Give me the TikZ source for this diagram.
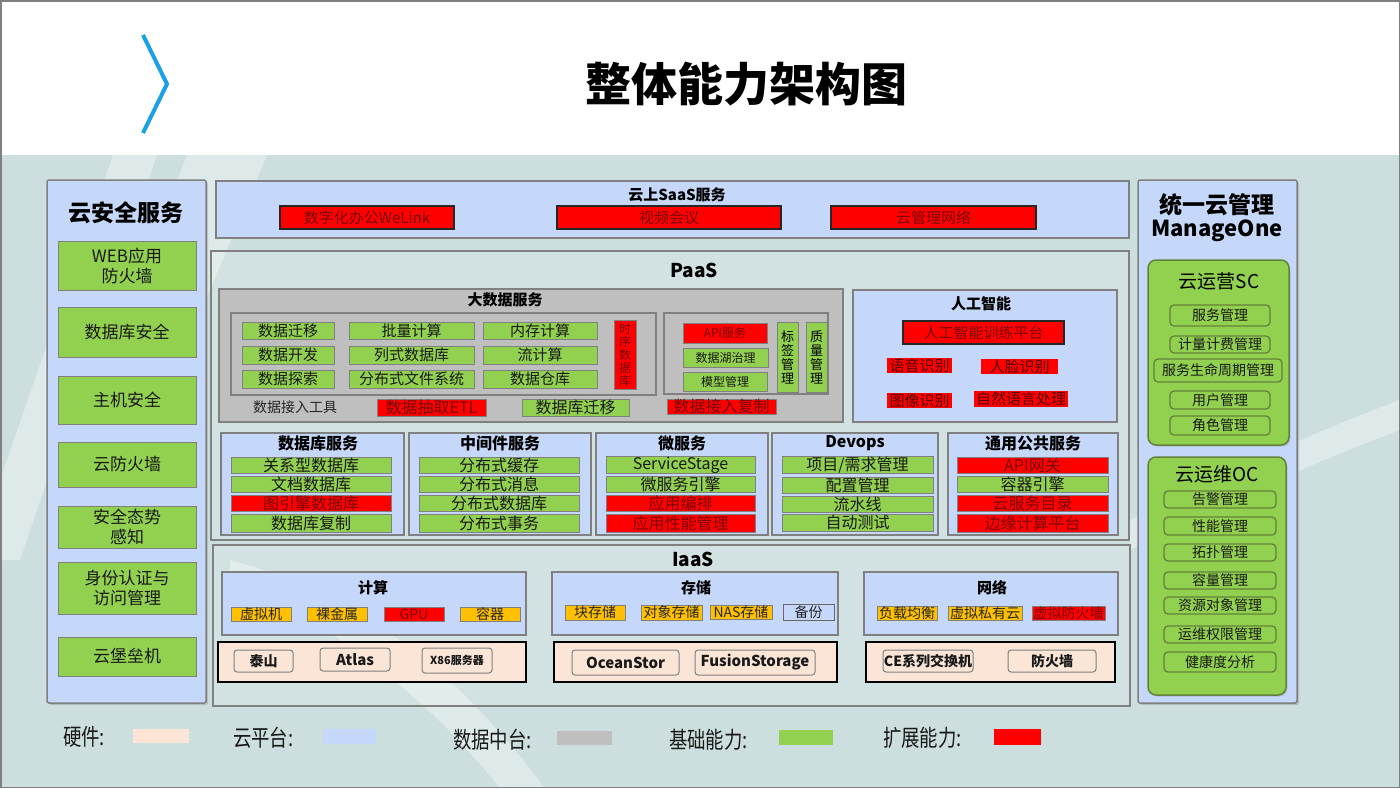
\documentclass[tikz,border=0pt]{standalone}
\usepackage{fontspec}
\setmainfont{Noto Sans CJK SC}
\usetikzlibrary{shadows}
\definecolor{bgteal}{RGB}{204,223,222}
\definecolor{lblue}{RGB}{198,216,249}
\definecolor{ggreen}{RGB}{146,208,80}
\definecolor{rred}{RGB}{255,0,0}
\definecolor{gbox}{RGB}{191,191,191}
\definecolor{peach}{RGB}{251,229,214}
\definecolor{orng}{RGB}{255,192,0}
\definecolor{bord}{RGB}{128,128,128}
\definecolor{rtext}{RGB}{120,10,10}
\definecolor{chev}{RGB}{26,160,230}
\definecolor{gbord}{RGB}{100,130,60}
\newcommand{\fsz}[1]{\fontsize{#1}{#1}\selectfont}
\newcommand{\bx}[7]{\node[#1,minimum width={(#5-#3)*1pt},minimum height={(#6-#4)*1pt}] (#2) at ({(#3+#5)/2},{(#4+#6)/2}) {#7};}
\tikzset{
  every node/.style={inner sep=0pt,outer sep=0pt},
  panel/.style={draw=bord,line width=1.5pt,fill=lblue,rounded corners=2pt,
    drop shadow={shadow xshift=2pt,shadow yshift=-2pt,opacity=0.35}},
  lpanel/.style={draw=bord,line width=1.2pt,fill=lblue},
  outerbox/.style={draw=bord,line width=1.5pt,fill=white,fill opacity=0.12},
  graybox/.style={draw=bord,line width=1.2pt,fill=gbox},
  gitem/.style={draw=bord,line width=1pt,fill=ggreen,text=black!90,font=\fsz{15}},
  ritem/.style={draw=bord,line width=1pt,fill=rred,text=rtext,font=\fsz{15}},
  rk/.style={draw=black!85,line width=1.2pt,fill=rred,text=rtext,font=\fsz{15}},
  rn/.style={fill=rred,text=rtext!70!black,font=\fsz{15}},
  oitem/.style={draw=bord,line width=1pt,fill=orng,text=black!85,font=\fsz{14}},
  bitem/.style={draw=black!60,line width=1pt,fill=lblue,text=black!85,font=\fsz{14}},
  hwbox/.style={draw=black,line width=1.6pt,fill=peach},
  hwitem/.style={draw=bord,line width=1pt,fill=peach,rounded corners=3pt,text=black!90,font=\bfseries\fsz{15}},
  secitem/.style={draw=bord,line width=1pt,fill=ggreen,text=black!90,align=center,font=\fontsize{17}{20}\selectfont},
  rgreen/.style={draw=gbord,line width=1.5pt,fill=ggreen,rounded corners=8pt,
    drop shadow={shadow xshift=1.5pt,shadow yshift=-1.5pt,opacity=0.3}},
  mitem/.style={draw=gbord,line width=1.3pt,fill=ggreen,rounded corners=4pt,text=black!90,font=\fsz{14}},
  ttl/.style={text=black,font=\bfseries\fsz{15}},
  vtext/.style={align=center,font=\fontsize{12}{13}\selectfont},
  leg/.style={text=black!90,font=\fsz{23},anchor=west,xscale=0.8,transform shape},
}
\begin{document}
\begin{tikzpicture}[x=1pt,y=-1pt]
\useasboundingbox (0,0) rectangle (1400,788);
% background
\fill[white] (0,0) rectangle (1400,155);
\fill[bgteal] (0,155) rectangle (1400,788);
\begin{scope}[opacity=0.35]
\fill[white] (113,155) -- (157,155) -- (20,560) -- (0,560) -- (0,480) -- cycle;
\fill[white] (187,155) -- (267,155) -- (130,480) -- (60,480) -- cycle;
\fill[white] (230,560) .. controls (380,600) and (470,690) .. (545,788) -- (500,788) .. controls (430,700) and (330,620) .. (230,580) -- cycle;
\fill[white] (1130,520) .. controls (1230,470) and (1320,430) .. (1400,400) -- (1400,430) .. controls (1320,460) and (1230,500) .. (1130,550) -- cycle;
\end{scope}
\draw[bord,line width=1.5pt] (0.75,0.75) rectangle (1399.25,787.25);
% title
\draw[chev,line width=4pt,line cap=butt,line join=miter] (143,35) -- (167,84) -- (143,133);
\node[font=\bfseries\fsz{46},text=black] (title) at (746,84) {整体能力架构图};

% left panel
\bx{panel}{sec}{47}{180}{206}{703}{}
\node[font=\bfseries\fsz{23}] (secT) at (126,213) {云安全服务};
\bx{secitem}{s1}{58}{241}{196}{290}{WEB应用\\防火墙}
\bx{secitem}{s2}{58}{307}{196}{357}{数据库安全}
\bx{secitem}{s3}{58}{376}{196}{424}{主机安全}
\bx{secitem}{s4}{58}{442}{196}{487}{云防火墙}
\bx{secitem}{s5}{58}{506}{196}{548}{安全态势\\感知}
\bx{secitem}{s6}{58}{562}{196}{614}{身份认证与\\访问管理}
\bx{secitem}{s7}{58}{637}{196}{676}{云堡垒机}

% right panel
\bx{panel}{mgr}{1138}{180}{1297}{703}{}
\node[font=\bfseries\fsz{23}] (mgrT1) at (1217,205) {统一云管理};
\node[font=\bfseries\fsz{22}] (mgrT2) at (1217,231) {ManageOne};
\bx{rgreen}{sc}{1148}{260}{1289}{445}{}
\node[font=\fsz{19}] (scT) at (1219,281) {云运营SC};
\bx{mitem}{sc1}{1170}{305}{1270}{326}{服务管理}
\bx{mitem}{sc2}{1170}{336}{1270}{353}{计量计费管理}
\bx{mitem}{sc3}{1154}{359}{1282}{382}{服务生命周期管理}
\bx{mitem}{sc4}{1170}{391}{1270}{409}{用户管理}
\bx{mitem}{sc5}{1170}{416}{1270}{435}{角色管理}
\bx{rgreen}{oc}{1148}{457}{1286}{695}{}
\node[font=\fsz{19}] (ocT) at (1217,474) {云运维OC};
\bx{mitem}{oc1}{1164}{491}{1276}{508}{告警管理}
\bx{mitem}{oc2}{1164}{517}{1276}{535}{性能管理}
\bx{mitem}{oc3}{1164}{544}{1276}{561}{拓扑管理}
\bx{mitem}{oc4}{1164}{572}{1276}{589}{容量管理}
\bx{mitem}{oc5}{1164}{597}{1276}{614}{资源对象管理}
\bx{mitem}{oc6}{1164}{626}{1276}{643}{运维权限管理}
\bx{mitem}{oc7}{1164}{652}{1276}{672}{健康度分析}

% SaaS
\bx{lpanel}{saas}{216}{181}{1129}{238}{}
\node[ttl,font=\bfseries\fsz{15}] (saasT) at (677,195) {云上SaaS服务};
\bx{rk}{wl}{280}{206}{454}{229}{数字化办公WeLink}
\bx{rk}{vc}{557}{206}{781}{229}{视频会议}
\bx{rk}{cn}{831}{206}{1036}{229}{云管理网络}

% PaaS
\bx{outerbox}{paas}{211}{251}{1129}{540}{}
\node[font=\bfseries\fsz{19}] (paasT) at (694,270) {PaaS};
\bx{graybox}{bd}{219}{289}{843}{422}{}
\node[ttl] (bdT) at (505,300) {大数据服务};
\bx{graybox}{bdA}{231}{313}{656}{395}{}
\bx{graybox}{bdB}{664}{313}{828}{394}{}
\bx{gitem}{b11}{242}{322}{334}{339}{数据迁移}
\bx{gitem}{b21}{242}{346}{334}{364}{数据开发}
\bx{gitem}{b31}{242}{370}{334}{388}{数据探索}
\bx{gitem}{b12}{349}{322}{474}{339}{批量计算}
\bx{gitem}{b22}{349}{346}{474}{364}{列式数据库}
\bx{gitem}{b32}{349}{370}{474}{388}{分布式文件系统}
\bx{gitem}{b13}{483}{322}{597}{339}{内存计算}
\bx{gitem}{b23}{483}{346}{597}{364}{流计算}
\bx{gitem}{b33}{483}{370}{597}{388}{数据仓库}
\bx{ritem}{tsdb}{614}{320}{636}{389}{}
\node[vtext,text=rtext] (tsdbT) at (tsdb.center) {时\\序\\数\\据\\库};
\node[font=\fsz{14},text=black!85] (bdtool) at (295,407) {数据接入工具};
\bx{ritem}{etl}{377}{399}{486}{416}{\fsz{16}数据抽取ETL}
\bx{gitem}{dbm}{522}{399}{629}{416}{\fsz{16}数据库迁移}
\bx{ritem}{api}{683}{323}{767}{343}{\fsz{12}API服务}
\bx{gitem}{lake}{683}{348}{768}{367}{\fsz{12}数据湖治理}
\bx{gitem}{model}{683}{372}{767}{391}{\fsz{12}模型管理}
\bx{gitem}{tag}{777}{322}{798}{392}{}
\node[vtext,font=\fontsize{13}{14}\selectfont] (tagT) at (tag.center) {标\\签\\管\\理};
\bx{gitem}{qual}{806}{322}{827}{392}{}
\node[vtext,font=\fontsize{13}{14}\selectfont] (qualT) at (qual.center) {质\\量\\管\\理};
\bx{ritem}{rep}{667}{399}{776}{414}{\fsz{16}数据接入复制}

% AI
\bx{lpanel}{ai}{853}{290}{1117}{422}{}
\node[ttl] (aiT) at (981,304) {人工智能};
\bx{rk}{aitrain}{903}{321}{1064}{344}{人工智能训练平台}
\bx{rn}{ai1}{887}{358}{952}{373}{语音识别}
\bx{rn}{ai2}{981}{359}{1058}{374}{人脸识别}
\bx{rn}{ai3}{887}{393}{952}{408}{图像识别}
\bx{rn}{ai4}{974}{391}{1068}{407}{自然语言处理}

% service row
\bx{lpanel}{dbs}{221}{433}{404}{535}{}
\node[ttl,font=\bfseries\fsz{16}] (dbsT) at (318,443) {数据库服务};
\bx{gitem}{d1}{231}{457}{391}{473}{\fsz{16}关系型数据库}
\bx{gitem}{d2}{231}{476}{391}{492}{\fsz{16}文档数据库}
\bx{ritem}{d3}{231}{495}{391}{511}{\fsz{16}图引擎数据库}
\bx{gitem}{d4}{231}{514}{391}{532}{\fsz{16}数据库复制}
\bx{lpanel}{mid}{409}{433}{591}{535}{}
\node[ttl,font=\bfseries\fsz{16}] (midT) at (500,443) {中间件服务};
\bx{gitem}{m1}{419}{457}{579}{473}{\fsz{16}分布式缓存}
\bx{gitem}{m2}{419}{476}{579}{492}{\fsz{16}分布式消息}
\bx{gitem}{m3}{419}{495}{579}{511}{\fsz{16}分布式数据库}
\bx{gitem}{m4}{419}{514}{579}{532}{\fsz{16}分布式事务}
\bx{lpanel}{ms}{596}{433}{768}{535}{}
\node[ttl,font=\bfseries\fsz{16}] (msT) at (682,443) {微服务};
\bx{gitem}{w1}{606}{457}{755}{473}{\fsz{16}ServiceStage}
\bx{gitem}{w2}{606}{476}{755}{492}{\fsz{16}微服务引擎}
\bx{ritem}{w3}{606}{495}{755}{511}{\fsz{16}应用编排}
\bx{ritem}{w4}{606}{514}{755}{532}{\fsz{16}应用性能管理}
\bx{lpanel}{dev}{772}{433}{938}{535}{}
\node[ttl,font=\bfseries\fsz{16}] (devT) at (855,443) {Devops};
\bx{gitem}{v1}{782}{457}{933}{473}{\fsz{16}项目/需求管理}
\bx{gitem}{v2}{782}{477}{933}{493}{\fsz{16}配置管理}
\bx{gitem}{v3}{782}{496}{933}{512}{\fsz{16}流水线}
\bx{gitem}{v4}{782}{514}{933}{531}{\fsz{16}自动测试}
\bx{lpanel}{pub}{948}{433}{1118}{535}{}
\node[ttl,font=\bfseries\fsz{16}] (pubT) at (1033,443) {通用公共服务};
\bx{ritem}{p1}{957}{457}{1108}{473}{\fsz{16}API网关}
\bx{gitem}{p2}{957}{476}{1108}{492}{\fsz{16}容器引擎}
\bx{ritem}{p3}{957}{495}{1108}{511}{\fsz{16}云服务目录}
\bx{ritem}{p4}{957}{514}{1108}{532}{\fsz{16}边缘计算平台}

% IaaS
\bx{outerbox}{iaas}{213}{545}{1130}{706}{}
\node[font=\bfseries\fsz{19}] (iaasT) at (693,559) {IaaS};
\bx{lpanel}{cmp}{222}{572}{526}{635}{}
\node[ttl] (cmpT) at (373,588) {计算};
\bx{oitem}{c1}{231}{607}{291}{621}{虚拟机}
\bx{oitem}{c2}{307}{607}{367}{621}{裸金属}
\bx{ritem}{c3}{384}{607}{444}{621}{\fsz{14}GPU}
\bx{oitem}{c4}{460}{607}{520}{621}{容器}
\bx{lpanel}{sto}{552}{572}{838}{635}{}
\node[ttl] (stoT) at (696,588) {存储};
\bx{oitem}{t1}{565}{605}{625}{620}{块存储}
\bx{oitem}{t2}{641}{605}{702}{620}{对象存储}
\bx{oitem}{t3}{710}{605}{772}{619}{NAS存储}
\bx{bitem}{t4}{783}{604}{834}{620}{备份}
\bx{lpanel}{net}{864}{572}{1118}{635}{}
\node[ttl] (netT) at (992,588) {网络};
\bx{oitem}{n1}{877}{606}{937}{620}{负载均衡}
\bx{oitem}{n2}{948}{606}{1022}{620}{虚拟私有云}
\bx{ritem}{n3}{1032}{606}{1105}{620}{\fsz{14}虚拟防火墙}
\bx{hwbox}{hw1}{218}{642}{526}{682}{}
\bx{hwbox}{hw2}{554}{642}{837}{682}{}
\bx{hwbox}{hw3}{866}{642}{1115}{682}{}
\bx{hwitem}{h1}{234}{650}{293}{672}{\fsz{14}泰山}
\bx{hwitem}{h2}{320}{648}{390}{671}{Atlas}
\bx{hwitem}{h3}{422}{648}{492}{673}{\fsz{11}X86服务器}
\bx{hwitem}{h4}{572}{650}{679}{675}{OceanStor}
\bx{hwitem}{h5}{695}{650}{815}{675}{FusionStorage}
\bx{hwitem}{h6}{883}{650}{973}{672}{\fsz{14}CE系列交换机}
\bx{hwitem}{h7}{1008}{650}{1096}{672}{\fsz{14}防火墙}

% legend
\node[leg] (lg1) at (63,737) {硬件:};
\bx{fill=peach}{sw1}{133}{729}{189}{743}{}
\node[leg] (lg2) at (233,738) {云平台:};
\bx{fill=lblue}{sw2}{323}{729}{376}{744}{}
\node[leg] (lg3) at (453,740) {数据中台:};
\bx{fill=gbox}{sw3}{557}{731}{612}{745}{}
\node[leg] (lg4) at (669,740) {基础能力:};
\bx{fill=ggreen}{sw4}{779}{730}{833}{745}{}
\node[leg] (lg5) at (883,738) {扩展能力:};
\bx{fill=rred}{sw5}{994}{729}{1041}{745}{}
\end{tikzpicture}
\end{document}
